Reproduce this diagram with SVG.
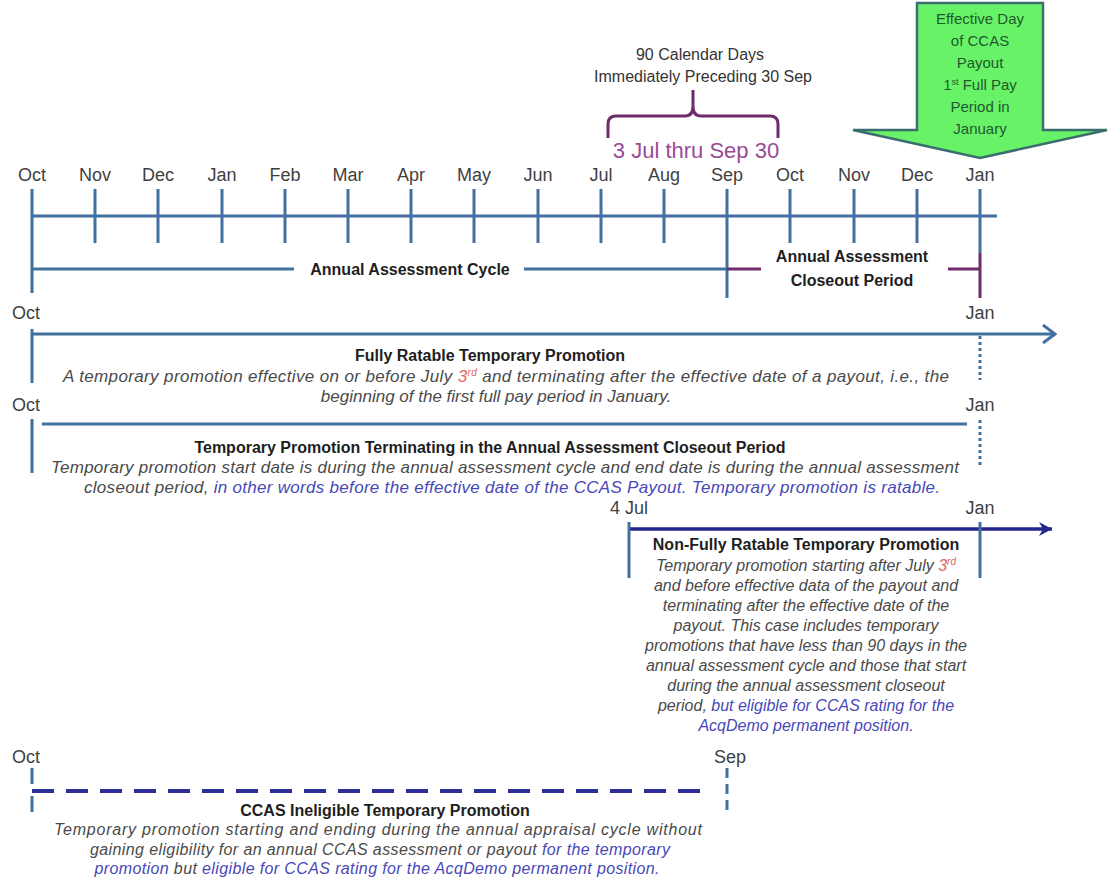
<svg xmlns="http://www.w3.org/2000/svg" width="1108" height="890" viewBox="0 0 1108 890">
<defs>
<style>
text{font-family:"Liberation Sans",Arial,sans-serif}
.m{font-size:18px;fill:#3f3f3f;text-anchor:middle}
.ms{font-size:18px;fill:#3f3f3f}
.b{font-size:16px;font-weight:bold;fill:#1e1e1e;text-anchor:middle}
.i{font-size:16px;font-style:italic;fill:#4a4a4a;text-anchor:middle}
.i17{font-size:17px}
.bl{fill:#4848b8}
.r{fill:#e0665c}
.ln{stroke:#41719C;stroke-width:3;fill:none}
.dot{stroke:#41719C;stroke-width:3;fill:none;stroke-dasharray:3 3}
.pu{stroke:#6E2C6A;stroke-width:3;fill:none}
.nv{stroke:#25258F;stroke-width:3.5;fill:none}
.gt{font-size:15px;fill:#1f5a2c;text-anchor:middle}
</style>
<marker id="openArrow" markerWidth="16" markerHeight="20" refX="14" refY="10" orient="auto" markerUnits="userSpaceOnUse">
<path d="M2,1 L14,10 L2,19" fill="none" stroke="#41719C" stroke-width="3"/>
</marker>
<marker id="navyArrow" markerWidth="16" markerHeight="16" refX="14" refY="8" orient="auto" markerUnits="userSpaceOnUse">
<path d="M1,1 L14,8 L1,15 L5,8 Z" fill="#25258F"/>
</marker>
</defs>
<rect width="1108" height="890" fill="#ffffff"/>

<g id="payout-callout">
<path d="M917,3 H1043 V130 H1107 L980,158 L853,130 H917 Z" fill="#68F268" stroke="#3A6E6E" stroke-width="2.5" stroke-linejoin="miter"/>
<text class="gt" x="980" y="24">Effective Day</text>
<text class="gt" x="980" y="46">of CCAS</text>
<text class="gt" x="980" y="68">Payout</text>
<text class="gt" x="980" y="90">1<tspan font-size="9" dy="-5">st</tspan><tspan dy="5"> Full Pay</tspan></text>
<text class="gt" x="980" y="112">Period in</text>
<text class="gt" x="980" y="134">January</text>
</g>

<g id="ninety-day-window">
<text x="700" y="60" style="font-size:16px;fill:#333;text-anchor:middle">90 Calendar Days</text>
<text x="703" y="82" style="font-size:16px;fill:#333;text-anchor:middle">Immediately Preceding 30 Sep</text>
<path class="pu" d="M608,138 V124 Q608,116 616,116 H685 Q693,116 693,106 V90 M693,106 Q693,116 701,116 H770 Q778,116 778,124 V138" stroke="#7A3477"/>
<text x="696" y="158" style="font-size:22px;fill:#9A4A96;text-anchor:middle">3 Jul thru Sep 30</text>
</g>

<g id="month-timeline">
<text class="m" x="32" y="181">Oct</text>
<text class="m" x="95" y="181">Nov</text>
<text class="m" x="158" y="181">Dec</text>
<text class="m" x="222" y="181">Jan</text>
<text class="m" x="285" y="181">Feb</text>
<text class="m" x="348" y="181">Mar</text>
<text class="m" x="411" y="181">Apr</text>
<text class="m" x="474" y="181">May</text>
<text class="m" x="538" y="181">Jun</text>
<text class="m" x="601" y="181">Jul</text>
<text class="m" x="664" y="181">Aug</text>
<text class="m" x="727" y="181">Sep</text>
<text class="m" x="790" y="181">Oct</text>
<text class="m" x="854" y="181">Nov</text>
<text class="m" x="917" y="181">Dec</text>
<text class="m" x="980" y="181">Jan</text>
<line class="ln" x1="32" y1="216" x2="997" y2="216"/>
<path class="ln" d="M32,189 V293 M95,189 V243 M158,189 V243 M222,189 V243 M285,189 V243 M348,189 V243 M411,189 V243 M474,189 V243 M538,189 V243 M601,189 V243 M664,189 V243 M727,189 V298 M790,189 V243 M854,189 V243 M917,189 V243 M980,189 V253"/>
</g>

<g id="annual-assessment-cycle">
<path class="ln" d="M32,269 H294 M524,269 H727"/>
<text class="b" x="410" y="275">Annual Assessment Cycle</text>
</g>

<g id="closeout-period">
<path class="pu" d="M727,269 H761 M948,269 H980 M980,253 V298"/>
<text class="b" x="852" y="262">Annual Assessment</text>
<text class="b" x="852" y="286">Closeout Period</text>
</g>

<g id="connectors">
<line class="ln" x1="32" y1="334" x2="1055" y2="334" marker-end="url(#openArrow)"/>
<line class="ln" x1="32" y1="329" x2="32" y2="383"/>
<line class="dot" x1="980" y1="336" x2="980" y2="380"/>
<line class="ln" x1="42" y1="424" x2="967" y2="424"/>
<line class="ln" x1="32" y1="419" x2="32" y2="473"/>
<line class="dot" x1="980" y1="420" x2="980" y2="468"/>
<line class="nv" x1="629" y1="529" x2="1052" y2="529" marker-end="url(#navyArrow)"/>
<line class="ln" x1="629" y1="522" x2="629" y2="578"/>
<line class="ln" x1="980" y1="522" x2="980" y2="578"/>
<line x1="32" y1="791" x2="712" y2="791" stroke="#2E2E99" stroke-width="4" stroke-dasharray="22 12"/>
<line class="ln" x1="32" y1="768" x2="32" y2="812" stroke-dasharray="16 12"/>
<line class="ln" x1="727" y1="768" x2="727" y2="812" stroke-dasharray="10 6"/>
</g>

<g id="fully-ratable">
<text class="ms" x="12" y="319">Oct</text>
<text class="m" x="980" y="319">Jan</text>
<text class="b" x="490" y="361">Fully Ratable Temporary Promotion</text>
<text class="i i17" x="506" y="382" textLength="886">A temporary promotion effective on or before July <tspan class="r">3</tspan><tspan class="r" font-size="10" dy="-6">rd</tspan><tspan dy="6"> and terminating after the effective date of a payout, i.e., the</tspan></text>
<text class="i i17" x="496" y="402">beginning of the first full pay period in January.</text>
</g>

<g id="terminating-in-closeout">
<text class="ms" x="12" y="411">Oct</text>
<text class="m" x="980" y="411">Jan</text>
<text class="b" x="490" y="453">Temporary Promotion Terminating in the Annual Assessment Closeout Period</text>
<text class="i i17" x="505" y="473" textLength="908">Temporary promotion start date is during the annual assessment cycle and end date is during the annual assessment</text>
<text class="i i17" x="512" y="493" textLength="856">closeout period, <tspan class="bl">in other words before the effective date of the CCAS Payout.  Temporary promotion is ratable.</tspan></text>
</g>

<g id="non-fully-ratable">
<text class="ms" x="610" y="514">4 Jul</text>
<text class="m" x="980" y="514">Jan</text>
<text class="b" x="806" y="550">Non-Fully Ratable Temporary Promotion</text>
<text class="i" x="806" y="571">Temporary promotion starting after July <tspan class="r">3</tspan><tspan class="r" font-size="10" dy="-6">rd</tspan></text>
<text class="i" x="806" y="591">and before effective data of the payout and</text>
<text class="i" x="806" y="611">terminating after the effective date of the</text>
<text class="i" x="806" y="631">payout. This case includes temporary</text>
<text class="i" x="806" y="651">promotions that have less than 90 days in the</text>
<text class="i" x="806" y="671">annual assessment cycle and those that start</text>
<text class="i" x="806" y="691">during the annual assessment closeout</text>
<text class="i" x="806" y="711">period, <tspan class="bl">but eligible for CCAS rating for the</tspan></text>
<text class="i bl" x="806" y="731">AcqDemo permanent position.</text>
</g>

<g id="ccas-ineligible">
<text class="ms" x="12" y="763">Oct</text>
<text class="m" x="730" y="763">Sep</text>
<text class="b" x="385" y="816">CCAS Ineligible Temporary Promotion</text>
<text class="i" x="378" y="835" textLength="648">Temporary promotion starting and ending during the annual appraisal cycle without</text>
<text class="i" x="380" y="855" textLength="580">gaining eligibility for an annual CCAS assessment or payout <tspan class="bl">for the temporary</tspan></text>
<text class="i" x="377" y="874" textLength="565"><tspan class="bl">promotion</tspan> but <tspan class="bl">eligible for CCAS rating for the AcqDemo permanent position.</tspan></text>
</g>
</svg>
